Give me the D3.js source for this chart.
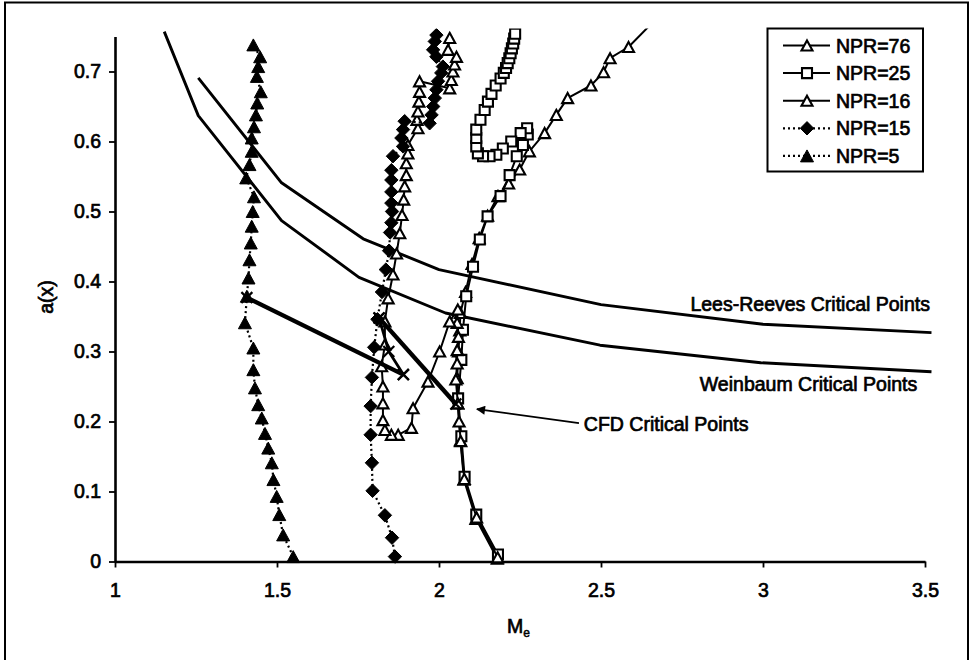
<!DOCTYPE html>
<html><head><meta charset="utf-8">
<script src="https://cdn.jsdelivr.net/npm/d3@7"></script>
<style>
html,body{margin:0;padding:0;background:#fff;}
svg{display:block;font-family:"Liberation Sans",Arial,Helvetica,sans-serif;}
</style></head><body>
<svg id="chart" width="971" height="660"></svg>
<script>
// ---- axis ticks ----
const xTicks = [1, 1.5, 2, 2.5, 3, 3.5];
const xTickLabels = ["1", "1.5", "2", "2.5", "3", "3.5"];
const yTicks = [0, 0.1, 0.2, 0.3, 0.4, 0.5, 0.6, 0.7];
const yTickLabels = ["0", "0.1", "0.2", "0.3", "0.4", "0.5", "0.6", "0.7"];

// ---- theory curves ----
const leesReevesM = [1.257, 1.514, 1.766, 2.0, 2.5, 3.0, 3.52];
const leesReevesA = [0.691, 0.541, 0.461, 0.417, 0.367, 0.339, 0.327];
const weinbaumM = [1.152, 1.257, 1.514, 1.753, 2.02, 2.497, 2.993, 3.52];
const weinbaumA = [0.757, 0.637, 0.487, 0.406, 0.355, 0.309, 0.284, 0.271];

// ---- CFD runs ----
const npr76M = [2.180,2.114,2.077,2.066,2.058,2.056,2.060,2.064,2.066,2.082,2.102,2.124,2.150,2.182,2.215,2.249,2.279,2.326,2.362,2.397,2.469,2.508,2.528,2.585,2.670];
const npr76A = [0.004,0.061,0.117,0.173,0.226,0.262,0.300,0.330,0.355,0.385,0.425,0.462,0.494,0.522,0.540,0.560,0.586,0.612,0.638,0.662,0.680,0.699,0.719,0.735,0.775];

const npr25M = [2.182,2.115,2.079,2.069,2.059,2.069,2.074,2.084,2.105,2.126,2.150,2.190,2.218,2.240,2.259,2.274,2.272,2.252,2.223,2.197,2.177,2.156,2.136,2.120,2.115,2.115,2.115,2.128,2.141,2.151,2.162,2.175,2.190,2.200,2.207,2.212,2.217,2.221,2.225,2.229,2.232,2.235];
const npr25A = [0.010,0.067,0.121,0.179,0.233,0.288,0.331,0.379,0.421,0.460,0.493,0.522,0.552,0.579,0.595,0.610,0.619,0.612,0.600,0.590,0.581,0.579,0.579,0.583,0.593,0.605,0.617,0.631,0.645,0.657,0.668,0.680,0.690,0.698,0.705,0.712,0.719,0.726,0.733,0.740,0.747,0.754];

const npr16M = [2.181,2.116,2.078,2.067,2.062,2.058,2.052,2.056,2.056,2.060,2.056,2.058,2.033,2.002,1.966,1.920,1.915,1.874,1.853,1.833,1.827,1.827,1.827,1.823,1.833,1.833,1.843,1.858,1.869,1.879,1.886,1.891,1.894,1.899,1.899,1.904,1.904,1.935,1.932,1.935,1.938,1.940,1.940,2.033,2.038,2.043,2.048,2.054,2.028,2.033];
const npr16A = [0.006,0.063,0.118,0.172,0.200,0.226,0.260,0.283,0.302,0.321,0.341,0.360,0.343,0.300,0.257,0.219,0.191,0.181,0.181,0.188,0.202,0.226,0.250,0.279,0.310,0.343,0.376,0.410,0.440,0.469,0.495,0.517,0.536,0.552,0.569,0.583,0.595,0.619,0.631,0.643,0.657,0.671,0.686,0.676,0.688,0.700,0.710,0.721,0.731,0.748];

const npr15M = [1.864,1.855,1.833,1.795,1.793,1.789,1.789,1.793,1.800,1.810,1.824,1.836,1.846,1.849,1.853,1.855,1.853,1.853,1.853,1.853,1.858,1.889,1.884,1.889,1.894,1.971,1.977,1.982,1.987,1.992,1.997,2.007,2.012,1.992,1.982,1.987,1.992];
const npr15A = [0.007,0.034,0.066,0.101,0.141,0.181,0.222,0.263,0.306,0.346,0.385,0.417,0.444,0.470,0.484,0.500,0.512,0.528,0.545,0.559,0.579,0.593,0.605,0.617,0.629,0.626,0.638,0.650,0.662,0.674,0.686,0.698,0.707,0.721,0.731,0.743,0.752];

const npr5M = [1.550,1.519,1.507,1.499,1.489,1.484,1.473,1.463,1.453,1.442,1.432,1.427,1.427,1.401,1.407,1.412,1.415,1.419,1.422,1.425,1.429,1.405,1.415,1.422,1.422,1.429,1.435,1.439,1.450,1.438,1.442,1.448,1.427];
const npr5A = [0.007,0.038,0.067,0.093,0.117,0.141,0.162,0.183,0.205,0.224,0.248,0.274,0.305,0.341,0.379,0.405,0.431,0.455,0.479,0.500,0.521,0.548,0.567,0.586,0.605,0.621,0.638,0.655,0.671,0.693,0.707,0.721,0.738];

// ---- CFD critical points ----
const cfdRunAM = [1.407, 1.890];
const cfdRunAA = [0.377, 0.267];
const cfdRunBM = [1.815, 1.845, 1.890];
const cfdRunBA = [0.348, 0.300, 0.267];
const cfdRunCM = [1.815, 2.052];
const cfdRunCA = [0.348, 0.225];

// ---- legend ----
const legendNames = ["NPR=76", "NPR=25", "NPR=16", "NPR=15", "NPR=5"];

// ---- annotations (data coordinates) ----
const curveLabels = ["Lees-Reeves Critical Points", "Weinbaum Critical Points", "CFD Critical Points"];
const curveLabelM = [2.776, 2.805, 2.447];
const curveLabelA = [0.358, 0.2436, 0.1864];
const arrowFrom = [2.432, 0.1977];
const arrowTo = [2.117, 0.2176];

const svg = d3.select("#chart");
const x = d3.scaleLinear().domain([1, 3.5]).range([115, 925]);
const y = d3.scaleLinear().domain([0, 0.75]).range([561.5, 36.5]);
const FONT = 19.5;

function inkText(sel) {
  return sel.attr("fill", "#000").attr("stroke", "#000").attr("stroke-width", 0.7)
    .style("font-size", FONT + "px");
}

// outer frame
svg.append("rect").attr("x", 5).attr("y", 2.5).attr("width", 963).attr("height", 680)
  .attr("fill", "none").attr("stroke", "#000").attr("stroke-width", 2);

// clip for plotted marks
const defs = svg.append("defs");
defs.append("clipPath").attr("id", "plotClip")
  .append("rect").attr("x", 110).attr("y", 28.5).attr("width", 830).attr("height", 540);
defs.append("marker").attr("id", "arrowHead").attr("viewBox", "0 0 10 10")
  .attr("refX", 9).attr("refY", 5).attr("markerWidth", 11).attr("markerHeight", 9)
  .attr("markerUnits", "userSpaceOnUse").attr("orient", "auto")
  .append("path").attr("d", "M0,0 L10,5 L0,10 Z").attr("fill", "#000");

// axes
const xAxis = d3.axisBottom(x).tickValues(xTicks).tickFormat((d, i) => xTickLabels[i])
  .tickSize(6).tickSizeOuter(0).tickPadding(15.5);
const yAxis = d3.axisLeft(y).tickValues(yTicks).tickFormat((d, i) => yTickLabels[i])
  .tickSize(6).tickSizeOuter(0).tickPadding(8);

const gx = svg.append("g").attr("transform", "translate(0,561.5)").call(xAxis);
const gy = svg.append("g").attr("transform", "translate(115,0)").call(yAxis);
[gx, gy].forEach(g => {
  g.select(".domain").attr("stroke", "#000").attr("stroke-width", 2.6);
  g.selectAll(".tick line").attr("stroke", "#000").attr("stroke-width", 1.8);
  g.selectAll(".tick text").call(inkText).style("font-family", "'Liberation Sans',Arial,sans-serif");
});

// axis titles
const xt = svg.append("text").attr("x", 507).attr("y", 633).call(inkText);
xt.append("tspan").text("M");
xt.append("tspan").attr("dy", 4).style("font-size", "12px").attr("stroke-width", 0.5).text("e");
svg.append("text").attr("transform", "translate(53,297) rotate(-90)")
  .attr("text-anchor", "middle").call(inkText).text("a(x)");

// plotted marks
const plot = svg.append("g").attr("clip-path", "url(#plotClip)");
const line = d3.line().x(d => x(d[0])).y(d => y(d[1]));

// marker shapes
const triOpen = { draw(ctx, size) { const w = Math.sqrt(size); const h = w * 0.92;
  ctx.moveTo(0, -h / 2); ctx.lineTo(w / 2, h / 2); ctx.lineTo(-w / 2, h / 2); ctx.closePath(); } };
const diamond = { draw(ctx, size) { const r = Math.sqrt(size) / 2;
  ctx.moveTo(0, -r); ctx.lineTo(r, 0); ctx.lineTo(0, r); ctx.lineTo(-r, 0); ctx.closePath(); } };
const square = { draw(ctx, size) { const r = Math.sqrt(size) / 2; ctx.rect(-r, -r, 2 * r, 2 * r); } };
const cross = { draw(ctx, size) { const r = Math.sqrt(size) / 2;
  ctx.moveTo(-r, -r); ctx.lineTo(r, r); ctx.moveTo(-r, r); ctx.lineTo(r, -r); } };

const styles = {
  tri:   { type: triOpen, size: 121, fill: "#fff", stroke: "#000", sw: 2.1, line: 2, dash: null },
  sq:    { type: square,  size: 100, fill: "#fff", stroke: "#000", sw: 2.1, line: 2, dash: null },
  dia:   { type: diamond, size: 180, fill: "#000", stroke: "#000", sw: 1,   line: 2.2, dash: "2,3" },
  triF:  { type: triOpen, size: 169, fill: "#000", stroke: "#000", sw: 1,   line: 2.2, dash: "2,3" }
};

function drawSeries(Ms, As, st) {
  const pts = d3.zip(Ms, As);
  plot.append("path").datum(pts).attr("d", line).attr("fill", "none")
    .attr("stroke", "#000").attr("stroke-width", st.line)
    .attr("stroke-dasharray", st.dash).attr("stroke-linejoin", "round");
  const sym = d3.symbol().type(st.type).size(st.size);
  plot.append("g").selectAll("path").data(pts).join("path")
    .attr("transform", d => `translate(${x(d[0])},${y(d[1])})`)
    .attr("d", sym).attr("fill", st.fill).attr("stroke", st.stroke).attr("stroke-width", st.sw)
    .attr("stroke-linejoin", "miter");
}

// theory curves
[[leesReevesM, leesReevesA], [weinbaumM, weinbaumA]].forEach(([m, a]) => {
  plot.append("path").datum(d3.zip(m, a)).attr("d", line).attr("fill", "none")
    .attr("stroke", "#000").attr("stroke-width", 2.9).attr("stroke-linejoin", "round");
});

drawSeries(npr76M, npr76A, styles.tri);
drawSeries(npr25M, npr25A, styles.sq);
drawSeries(npr16M, npr16A, styles.tri);
drawSeries(npr15M, npr15A, styles.dia);
drawSeries(npr5M, npr5A, styles.triF);

// CFD critical point runs
[[cfdRunAM, cfdRunAA, 4.4], [cfdRunBM, cfdRunBA, 2.8], [cfdRunCM, cfdRunCA, 4.4]].forEach(([m, a, w]) => {
  const pts = d3.zip(m, a);
  plot.append("path").datum(pts).attr("d", line).attr("fill", "none")
    .attr("stroke", "#000").attr("stroke-width", w).attr("stroke-linejoin", "round");
  plot.append("g").selectAll("path").data(pts).join("path")
    .attr("transform", d => `translate(${x(d[0])},${y(d[1])})`)
    .attr("d", d3.symbol().type(cross).size(120)).attr("fill", "none")
    .attr("stroke", "#000").attr("stroke-width", 2.2);
});

// annotations
curveLabels.forEach((t, i) => {
  svg.append("text").attr("x", x(curveLabelM[i])).attr("y", y(curveLabelA[i])).call(inkText).text(t);
});
svg.append("line")
  .attr("x1", x(arrowFrom[0])).attr("y1", y(arrowFrom[1]))
  .attr("x2", x(arrowTo[0])).attr("y2", y(arrowTo[1]))
  .attr("stroke", "#000").attr("stroke-width", 1.8).attr("marker-end", "url(#arrowHead)");

// legend
const lg = svg.append("g");
lg.append("rect").attr("x", 767.5).attr("y", 28.5).attr("width", 155.5).attr("height", 143)
  .attr("fill", "#fff").attr("stroke", "#000").attr("stroke-width", 2);
const legendStyles = [styles.tri, styles.sq, styles.tri, styles.dia, styles.triF];
legendNames.forEach((name, i) => {
  const cy = 45.5 + i * 27.6;
  const st = legendStyles[i];
  lg.append("line").attr("x1", 783).attr("x2", 830).attr("y1", cy).attr("y2", cy)
    .attr("stroke", "#000").attr("stroke-width", st.line).attr("stroke-dasharray", st.dash);
  lg.append("path").attr("transform", `translate(807,${cy})`)
    .attr("d", d3.symbol().type(st.type).size(st.size)).attr("fill", st.fill)
    .attr("stroke", st.stroke).attr("stroke-width", st.sw);
  lg.append("text").attr("x", 836).attr("y", cy).attr("dy", "0.36em").call(inkText).text(name);
});
</script>
</body></html>
